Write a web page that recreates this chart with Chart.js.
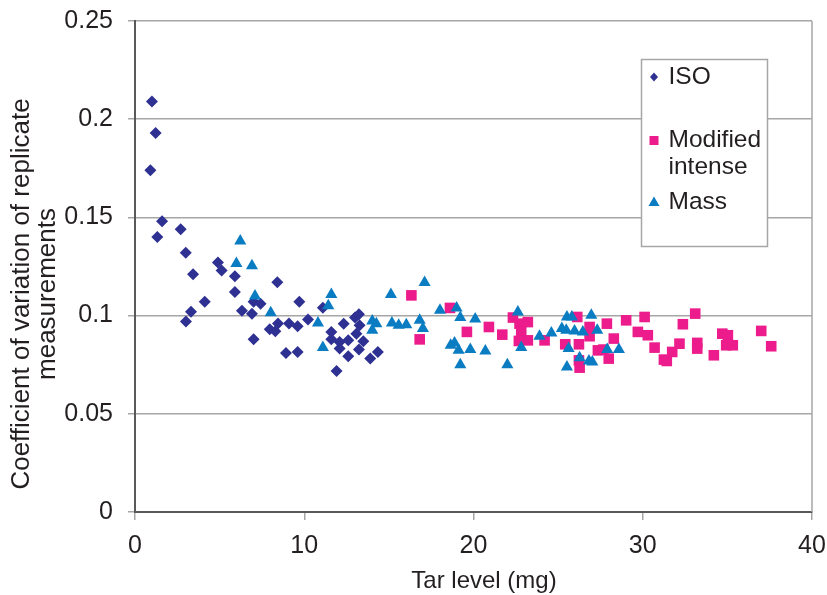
<!DOCTYPE html>
<html>
<head>
<meta charset="utf-8">
<script src="https://cdn.jsdelivr.net/npm/chart.js@4.4.0/dist/chart.umd.min.js"></script>
<style>
  html, body { margin: 0; padding: 0; background: #fff; }
  #wrap { width: 827px; height: 595px; }
</style>
</head>
<body>
<div id="wrap"><canvas id="cvChart" width="827" height="595"></canvas></div>
<script>
// tar level (mg) and coefficient of variation, one pair of arrays per smoking regime
const isoTar = [0.91, 1.0, 1.22, 1.32, 1.6, 2.7, 3.0, 3.01, 3.31, 3.43, 4.12, 4.9, 5.12, 5.9, 5.9,
    6.32, 6.91, 7.01, 7.01, 7.42, 7.96, 8.29, 8.41, 8.45, 8.92, 9.1, 9.61, 9.61, 9.71, 10.22,
    11.1, 11.6, 11.6, 11.91, 12.09, 12.09, 12.33, 12.6, 12.6, 13.0, 13.08, 13.23, 13.27, 13.23,
    13.49, 13.9, 14.35];
const isoCv = [0.174, 0.209, 0.193, 0.140, 0.148, 0.144, 0.132, 0.097, 0.102, 0.121, 0.107, 0.127, 0.123, 0.120, 0.112,
    0.1025, 0.101, 0.107, 0.088, 0.106, 0.093, 0.092, 0.117, 0.096, 0.081, 0.096, 0.0946, 0.0815, 0.107, 0.098,
    0.104, 0.0917, 0.0879, 0.0718, 0.0866, 0.0832, 0.0959, 0.0874, 0.0793, 0.099, 0.0908, 0.1007, 0.0951, 0.0827,
    0.0869, 0.0781, 0.0815];

const modTar = [16.33, 16.82, 18.61, 19.61, 20.91, 21.7, 22.33, 22.72, 23.21, 22.82, 23.21, 22.68, 24.2,
    26.13, 26.86, 26.86, 25.42, 26.23, 27.35, 27.68, 27.99, 26.27, 26.23, 27.88, 28.29, 29.02, 30.11,
    29.71, 30.3, 30.7, 31.25, 31.42, 31.74, 32.17, 32.37, 33.1, 33.22, 33.22, 34.2, 34.7, 35.03, 34.93,
    35.32, 37.0, 37.59];
const modCv = [0.1103, 0.0879, 0.1039, 0.0917, 0.0942, 0.0903, 0.099, 0.0959, 0.0967, 0.0917, 0.0874, 0.0871, 0.0874,
    0.0993, 0.0942, 0.0895, 0.0854, 0.0854, 0.0823, 0.0827, 0.0781, 0.0735, 0.0772, 0.0959, 0.0883, 0.0976, 0.0993,
    0.0917, 0.09, 0.0837, 0.0776, 0.0769, 0.0815, 0.0857, 0.0956, 0.101, 0.0861, 0.0832, 0.0798, 0.0908, 0.09, 0.0849,
    0.0849, 0.0922, 0.0844];

const massTar = [5.99, 6.22, 6.91, 7.09, 8.02, 10.81, 11.1, 11.42, 11.6, 14.02, 14.26, 14.02, 15.12, 15.18,
    15.58, 16.03, 16.82, 17.01, 17.11, 18.02, 18.65, 18.88, 19.0, 19.12, 19.22, 19.22, 19.81, 20.1, 20.7,
    22.0, 22.62, 22.82, 23.9, 24.6, 25.22, 25.52, 25.81, 25.48, 25.97, 26.46, 26.96, 27.31, 25.62, 26.27,
    26.82, 27.02, 25.52, 27.9, 28.59];
const massCv = [0.1265, 0.138, 0.1254, 0.110, 0.1015, 0.0962, 0.0837, 0.105, 0.1108, 0.0972, 0.0959, 0.0925, 0.1107, 0.0962,
    0.0951, 0.0954, 0.0976, 0.0934, 0.1168, 0.1027, 0.0849, 0.0861, 0.1039, 0.0823, 0.099, 0.075, 0.0827, 0.0983, 0.082,
    0.075, 0.1018, 0.0837, 0.0895, 0.0912, 0.0934, 0.0993, 0.0993, 0.0925, 0.0922, 0.0917, 0.1002, 0.0925, 0.0832, 0.0786,
    0.0769, 0.0764, 0.0738, 0.0828, 0.0828];

const yTicks = [0, 0.05, 0.1, 0.15, 0.2, 0.25];
const xTicks = [0, 10, 20, 30, 40];

const isoColor = '#2E3192';
const modColor = '#EC1C8C';
const massColor = '#0A7CC2';
const textColor = '#231F20';
const fontFamily = '"Liberation Sans", Arial, sans-serif';

const toPoints = (xs, ys) => xs.map((x, i) => ({ x: x, y: ys[i] }));

// frame line on the right plus both axis titles
const framePlugin = {
    id: 'frame',
    afterDraw(chart) {
        const { ctx, chartArea: a } = chart;
        ctx.save();
        ctx.strokeStyle = '#A6A6A6';
        ctx.lineWidth = 1.5;
        ctx.beginPath();
        ctx.moveTo(a.right, a.top);
        ctx.lineTo(a.right, a.bottom);
        ctx.stroke();

        ctx.fillStyle = textColor;
        ctx.font = '24px ' + fontFamily;
        ctx.textAlign = 'center';
        ctx.textBaseline = 'middle';
        ctx.fillText('Tar level (mg)', a.left + 349, a.bottom + 69);

        ctx.font = '26px ' + fontFamily;
        ctx.translate(22, a.top + 273);
        ctx.rotate(-Math.PI / 2);
        ctx.fillText('Coefficient of variation of replicate', 0, 0);
        ctx.fillText('measurements', 0, 26);
        ctx.restore();
    }
};

// boxed legend inside the plot, "Modified intense" wraps onto two lines
const legendPlugin = {
    id: 'boxLegend',
    afterDraw(chart) {
        const { ctx, chartArea: a } = chart;
        const x0 = a.right - 170.5, y0 = a.top + 38.5;
        ctx.save();
        ctx.fillStyle = '#fff';
        ctx.fillRect(x0, y0, 126, 187);
        ctx.strokeStyle = '#A6A6A6';
        ctx.lineWidth = 1.5;
        ctx.strokeRect(x0, y0, 126, 187);

        const mx = x0 + 12.5;
        // diamond
        let cy = y0 + 17.5;
        ctx.fillStyle = isoColor;
        ctx.beginPath();
        ctx.moveTo(mx, cy - 4.5); ctx.lineTo(mx + 4, cy); ctx.lineTo(mx, cy + 4.5); ctx.lineTo(mx - 4, cy);
        ctx.closePath(); ctx.fill();
        // square
        cy = y0 + 81;
        ctx.fillStyle = modColor;
        ctx.fillRect(mx - 4.5, cy - 4.5, 9, 9);
        // triangle
        cy = y0 + 142;
        ctx.fillStyle = massColor;
        ctx.beginPath();
        ctx.moveTo(mx, cy - 5); ctx.lineTo(mx + 5.5, cy + 4.5); ctx.lineTo(mx - 5.5, cy + 4.5);
        ctx.closePath(); ctx.fill();

        ctx.fillStyle = textColor;
        ctx.font = '24.5px ' + fontFamily;
        ctx.textAlign = 'left';
        ctx.textBaseline = 'middle';
        const tx = x0 + 27;
        ctx.fillText('ISO', tx, y0 + 18);
        ctx.fillText('Modified', tx, y0 + 81);
        ctx.fillText('intense', tx, y0 + 108);
        ctx.fillText('Mass', tx, y0 + 143);
        ctx.restore();
    }
};

new Chart(document.getElementById('cvChart'), {
    type: 'scatter',
    data: {
        datasets: [
            {
                label: 'ISO',
                data: toPoints(isoTar, isoCv),
                pointStyle: 'rectRot',
                pointRadius: 6,
                backgroundColor: isoColor,
                borderColor: isoColor,
                pointBorderWidth: 0,
                order: 2
            },
            {
                label: 'Modified intense',
                data: toPoints(modTar, modCv),
                pointStyle: 'rect',
                pointRadius: 7.5,
                backgroundColor: modColor,
                borderColor: modColor,
                pointBorderWidth: 0,
                order: 1
            },
            {
                label: 'Mass',
                data: toPoints(massTar, massCv),
                pointStyle: 'triangle',
                pointRadius: 7,
                backgroundColor: massColor,
                borderColor: massColor,
                pointBorderWidth: 0,
                order: 0
            }
        ]
    },
    options: {
        responsive: false,
        animation: false,
        devicePixelRatio: 1,
        events: [],
        layout: { padding: { top: 21, right: 15, left: 0, bottom: 0 } },
        plugins: {
            legend: { display: false },
            tooltip: { enabled: false }
        },
        scales: {
            x: {
                type: 'linear',
                min: 0,
                max: 40,
                afterBuildTicks: s => { s.ticks = xTicks.map(v => ({ value: v })); },
                afterFit: s => {
                    s.height = 83;
                    s.paddingLeft = 0;
                    s.paddingRight = 0;
                },
                ticks: {
                    color: textColor,
                    font: { family: fontFamily, size: 25 },
                    padding: 11,
                    maxRotation: 0
                },
                grid: {
                    drawOnChartArea: false,
                    tickLength: 8,
                    color: '#A6A6A6',
                    lineWidth: 1.5
                },
                border: { color: '#595959', width: 2 }
            },
            y: {
                min: 0,
                max: 0.25,
                afterBuildTicks: s => { s.ticks = yTicks.map(v => ({ value: v })); },
                afterFit: s => {
                    s.width = 135;
                    s.paddingTop = 0;
                    s.paddingBottom = 0;
                },
                ticks: {
                    color: textColor,
                    font: { family: fontFamily, size: 25 },
                    padding: 15,
                    callback: v => String(+v.toFixed(2))
                },
                grid: {
                    tickLength: 7,
                    color: '#A6A6A6',
                    lineWidth: 1.5
                },
                border: { color: '#595959', width: 2 }
            }
        }
    },
    plugins: [framePlugin, legendPlugin]
});
</script>
</body>
</html>
